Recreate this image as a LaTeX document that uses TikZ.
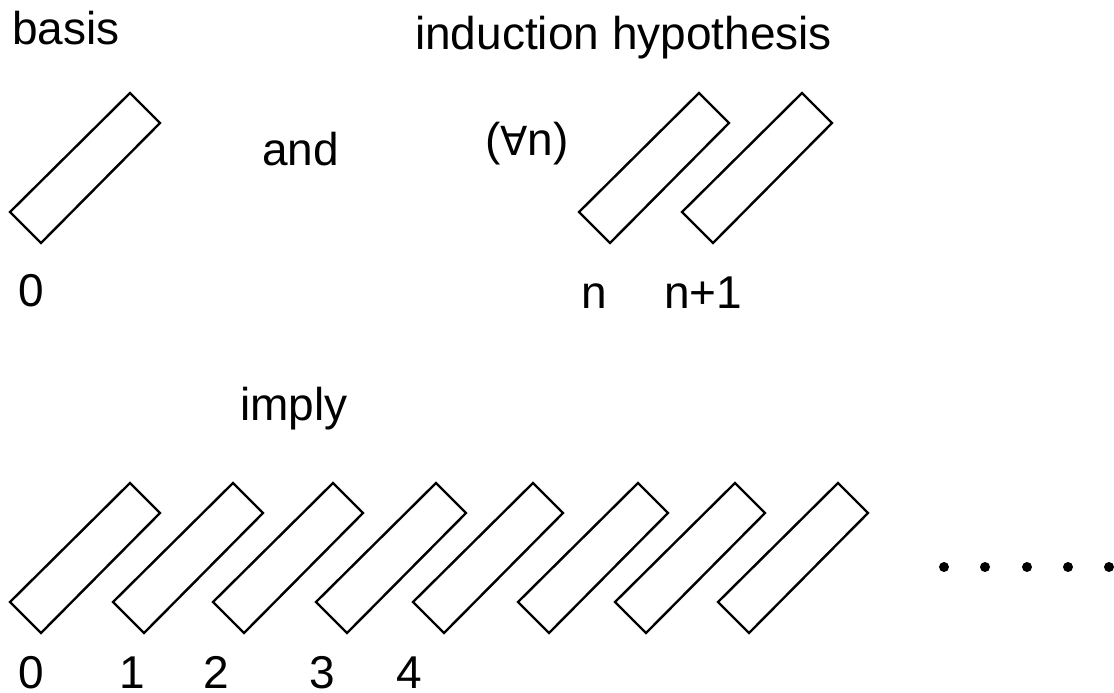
\documentclass[tikz,border=0pt]{standalone}
\usepackage{fontspec}
\setmainfont{Liberation Sans}
\newfontfamily\symfam{DejaVu Sans}
\begin{document}
\begin{tikzpicture}[x=1pt,y=-1pt,
  domino/.style={draw=black, line width=2.4pt, line join=miter},
  lbl/.style={anchor=base west, inner sep=0pt, font=\fontsize{46}{52}\selectfont},
  dot/.style={circle, fill=black, draw=none, inner sep=0pt, minimum size=10pt},
  dom/.pic={\draw[domino] (0,0) -- (31,31) -- (150,-89) -- (120,-119) -- cycle;}]
\useasboundingbox (0,0) rectangle (1114,693);
% top row
\pic at (10,212) {dom};
\pic at (579,212) {dom};
\pic at (682,212) {dom};
% bottom row
\foreach \x in {10,113,213,316,413,518,615,718} {\pic at (\x,602) {dom};}
% dots
\node[dot] (d1) at (944,567) {};
\node[dot] (d2) at (985,567) {};
\node[dot] (d3) at (1027,567) {};
\node[dot] (d4) at (1068,567) {};
\node[dot] (d5) at (1109,567) {};
% labels
\node[lbl] (basis) at (12,45) {basis};
\node[lbl] (ih) at (415,50) {induction hypothesis};
\node[lbl] (and) at (262,165) {and};
\node[lbl] (forall) at (485,155) {({\symfam\fontsize{40}{46}\selectfont ∀}n)};
\node[lbl] (t0) at (18,306) {0};
\node[lbl] (tn) at (581,308) {n};
\node[lbl] (tn1) at (664,308) {n+1};
\node[lbl] (imply) at (240,420) {imply};
\node[lbl] (b0) at (18,688) {0};
\node[lbl] (b1) at (119,688) {1};
\node[lbl] (b2) at (203,688) {2};
\node[lbl] (b3) at (309,688) {3};
\node[lbl] (b4) at (396,688) {4};
\end{tikzpicture}
\end{document}
